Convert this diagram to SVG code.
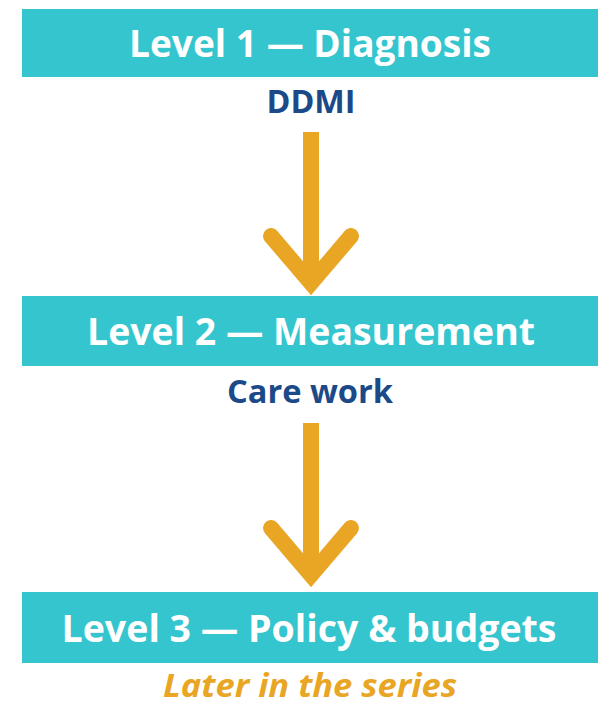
<svg xmlns="http://www.w3.org/2000/svg" width="601" height="707" viewBox="0 0 601 707">
  <defs>
    <style>
      .box { fill: #34C5CE; }
      .title { font-family: "Open Sans", "Liberation Sans", sans-serif; font-weight: 700; font-size: 38px; fill: #FFFFFF; text-anchor: middle; }
      .sub { font-family: "Open Sans", "Liberation Sans", sans-serif; font-weight: 700; font-size: 32px; fill: #1C4A88; text-anchor: middle; }
      .later { font-family: "Open Sans", "Liberation Sans", sans-serif; font-weight: 700; font-style: italic; font-size: 32px; fill: #E9A524; text-anchor: middle; }
      .shaft { stroke: #E9A624; stroke-width: 16; fill: none; stroke-linecap: butt; }
      .head { stroke: #E9A624; stroke-width: 16; fill: none; stroke-linecap: round; stroke-linejoin: miter; stroke-miterlimit: 10; }
    </style>
  </defs>
  <rect width="601" height="707" fill="#FFFFFF"/>

  <g id="connectors">
    <g id="arrow1">
      <line class="shaft" x1="311" y1="132" x2="311" y2="280"/>
      <polyline class="head" points="271,236 311,283 351,236"/>
    </g>
    <g id="arrow2">
      <line class="shaft" x1="311" y1="423" x2="311" y2="572"/>
      <polyline class="head" points="271,528 311,575 351,528"/>
    </g>
  </g>

  <g id="level1">
    <rect class="box" x="22" y="9" width="576" height="68"/>
    <text class="title" x="310" y="57" textLength="362" lengthAdjust="spacingAndGlyphs">Level 1 — Diagnosis</text>
  </g>
  <g id="ddmi">
    <text class="sub" x="311" y="113" textLength="89" lengthAdjust="spacingAndGlyphs">DDMI</text>
  </g>

  <g id="level2">
    <rect class="box" x="22" y="296" width="576" height="70"/>
    <text class="title" x="311" y="345" textLength="448" lengthAdjust="spacingAndGlyphs">Level 2 — Measurement</text>
  </g>
  <g id="carework">
    <text class="sub" x="310" y="403" textLength="166" lengthAdjust="spacingAndGlyphs">Care work</text>
  </g>

  <g id="level3">
    <rect class="box" x="22" y="592" width="576" height="71"/>
    <text class="title" x="309" y="642" textLength="495" lengthAdjust="spacingAndGlyphs">Level 3 — Policy &amp; budgets</text>
  </g>
  <g id="later">
    <text class="later" x="310" y="697" textLength="294" lengthAdjust="spacingAndGlyphs">Later in the series</text>
  </g>
</svg>
